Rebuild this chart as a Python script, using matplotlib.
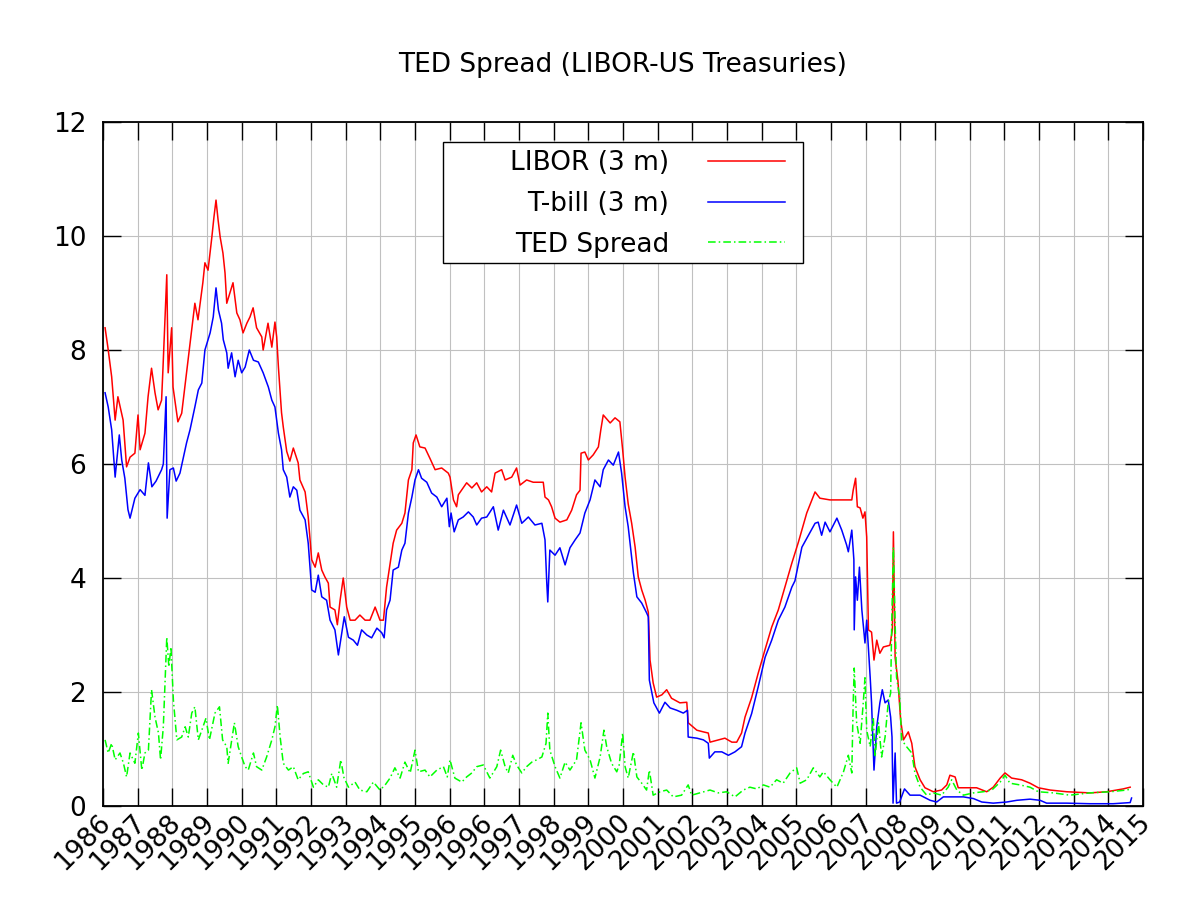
import numpy as np
import matplotlib
matplotlib.use('Agg')
import matplotlib.pyplot as plt
from matplotlib.transforms import ScaledTranslation

# values (decimal years, percent)
libor_t = [1986.06, 1986.14, 1986.25, 1986.35, 1986.43, 1986.58, 1986.68, 1986.78, 1986.92, 1987.01,
           1987.07, 1987.21, 1987.30, 1987.40, 1987.50, 1987.59, 1987.69, 1987.73, 1987.84, 1987.88,
           1987.98, 1988.02, 1988.16, 1988.27, 1988.41, 1988.56, 1988.65, 1988.74, 1988.88, 1988.94,
           1989.03, 1989.14, 1989.20, 1989.26, 1989.32, 1989.38, 1989.46, 1989.52, 1989.57, 1989.66,
           1989.75, 1989.86, 1989.95, 1990.04, 1990.15, 1990.24, 1990.33, 1990.43, 1990.58, 1990.62,
           1990.76, 1990.87, 1990.96, 1991.01, 1991.06, 1991.15, 1991.20, 1991.30, 1991.39, 1991.49,
           1991.63, 1991.68, 1991.83, 1991.92, 1992.02, 1992.12, 1992.21, 1992.31, 1992.40, 1992.50,
           1992.55, 1992.69, 1992.76, 1992.84, 1992.93, 1993.03, 1993.13, 1993.27, 1993.41, 1993.56,
           1993.70, 1993.85, 1993.99, 1994.09, 1994.18, 1994.37, 1994.47, 1994.62, 1994.71, 1994.81,
           1994.91, 1994.95, 1995.03, 1995.14, 1995.29, 1995.43, 1995.58, 1995.77, 1995.96, 1996.01,
           1996.11, 1996.20, 1996.25, 1996.49, 1996.64, 1996.78, 1996.92, 1997.07, 1997.21, 1997.31,
           1997.50, 1997.60, 1997.79, 1997.93, 1998.03, 1998.22, 1998.41, 1998.70, 1998.75, 1998.85,
           1998.94, 1999.04, 1999.18, 1999.38, 1999.52, 1999.66, 1999.76, 1999.79, 1999.90, 2000.00,
           2000.14, 2000.29, 2000.36, 2000.43, 2000.63, 2000.77, 2000.91, 2000.99, 2001.06, 2001.15,
           2001.25, 2001.35, 2001.44, 2001.54, 2001.64, 2001.73, 2001.78, 2001.87, 2001.97, 2002.12,
           2002.26, 2002.40, 2002.64, 2002.84, 2002.88, 2003.13, 2003.32, 2003.46, 2003.51, 2003.75,
           2003.94, 2004.14, 2004.28, 2004.42, 2004.52, 2004.71, 2004.90, 2005.10, 2005.29, 2005.48,
           2005.67, 2005.87, 2006.06, 2006.30, 2006.54, 2006.68, 2006.97, 2007.26, 2007.60, 2007.64,
           2007.71, 2007.76, 2007.84, 2007.92, 2007.98, 2008.03, 2008.08, 2008.17, 2008.24, 2008.32,
           2008.41, 2008.51, 2008.70, 2008.77, 2008.80, 2008.85, 2008.93, 2009.01, 2009.09, 2009.23,
           2009.33, 2009.42, 2009.57, 2009.71, 2009.95, 2010.19, 2010.34, 2010.43, 2010.58, 2010.67,
           2010.96, 2011.20, 2011.49, 2011.68, 2011.88, 2012.02, 2012.21, 2012.50, 2012.74, 2012.98,
           2013.32, 2013.80, 2014.47, 2014.95, 2015.43, 2015.63]
libor = [8.39, 8.05, 7.53, 6.77, 7.18, 6.77, 5.95, 6.12, 6.19, 6.86,
         6.25, 6.54, 7.18, 7.68, 7.25, 6.95, 7.12, 7.68, 9.32, 7.60,
         8.39, 7.35, 6.74, 6.89, 7.60, 8.35, 8.82, 8.53, 9.18, 9.53,
         9.40, 9.98, 10.33, 10.63, 10.28, 9.98, 9.70, 9.35, 8.82, 9.00,
         9.18, 8.65, 8.53, 8.30, 8.47, 8.58, 8.74, 8.39, 8.23, 8.00,
         8.47, 8.05, 8.49, 8.23, 7.70, 6.90, 6.65, 6.22, 6.05, 6.28,
         6.02, 5.72, 5.51, 5.07, 4.32, 4.19, 4.44, 4.14, 4.02, 3.91,
         3.49, 3.44, 3.18, 3.61, 4.00, 3.49, 3.26, 3.26, 3.35, 3.26,
         3.26, 3.49, 3.26, 3.26, 3.84, 4.61, 4.84, 4.96, 5.14, 5.72,
         5.90, 6.37, 6.51, 6.30, 6.28, 6.10, 5.90, 5.93, 5.84, 5.77,
         5.37, 5.25, 5.46, 5.67, 5.58, 5.67, 5.51, 5.60, 5.51, 5.84,
         5.90, 5.72, 5.77, 5.93, 5.63, 5.72, 5.68, 5.68, 5.42, 5.37,
         5.25, 5.05, 4.98, 5.02, 5.19, 5.46, 5.54, 6.19, 6.21, 6.07,
         6.16, 6.30, 6.60, 6.86, 6.72, 6.81, 6.74, 6.25, 5.77, 5.30,
         4.96, 4.54, 4.02, 3.79, 3.61, 3.40, 2.56, 2.16, 1.91, 1.95,
         2.04, 1.89, 1.81, 1.82, 1.46, 1.33, 1.30, 1.28, 1.12, 1.16,
         1.19, 1.12, 1.12, 1.28, 1.56, 1.90, 2.33, 2.75, 3.14, 3.44,
         3.84, 4.26, 4.63, 5.14, 5.51, 5.40, 5.37, 5.37, 5.37, 5.54,
         5.75, 5.25, 5.23, 5.05, 5.16, 4.72, 3.09, 3.05, 2.56, 2.91,
         2.68, 2.79, 2.82, 3.09, 4.81, 2.60, 2.20, 1.50, 1.16, 1.30,
         1.10, 0.69, 0.46, 0.32, 0.25, 0.28, 0.37, 0.54, 0.51, 0.32,
         0.32, 0.32, 0.25, 0.33, 0.49, 0.58, 0.49, 0.46, 0.40, 0.32,
         0.28, 0.25, 0.23, 0.25, 0.30, 0.33]

tbill_t = [1986.06, 1986.15, 1986.25, 1986.35, 1986.47, 1986.54, 1986.63, 1986.72, 1986.78, 1986.92,
           1987.07, 1987.21, 1987.31, 1987.41, 1987.53, 1987.69, 1987.74, 1987.82, 1987.85, 1987.93,
           1988.03, 1988.11, 1988.22, 1988.41, 1988.51, 1988.65, 1988.75, 1988.85, 1988.94, 1989.09,
           1989.18, 1989.26, 1989.33, 1989.42, 1989.47, 1989.57, 1989.61, 1989.71, 1989.81, 1989.90,
           1990.00, 1990.10, 1990.22, 1990.34, 1990.48, 1990.62, 1990.77, 1990.87, 1990.96, 1991.06,
           1991.15, 1991.20, 1991.30, 1991.39, 1991.49, 1991.59, 1991.68, 1991.83, 1991.92, 1992.02,
           1992.12, 1992.21, 1992.31, 1992.45, 1992.55, 1992.69, 1992.79, 1992.89, 1992.96, 1993.08,
           1993.22, 1993.34, 1993.46, 1993.61, 1993.75, 1993.90, 1994.04, 1994.11, 1994.18, 1994.28,
           1994.37, 1994.52, 1994.62, 1994.71, 1994.81, 1994.91, 1995.00, 1995.10, 1995.19, 1995.34,
           1995.48, 1995.63, 1995.77, 1995.92, 1995.99, 1996.04, 1996.13, 1996.25, 1996.39, 1996.54,
           1996.68, 1996.78, 1996.92, 1997.07, 1997.26, 1997.40, 1997.55, 1997.74, 1997.93, 1998.08,
           1998.27, 1998.46, 1998.66, 1998.75, 1998.80, 1998.83, 1998.89, 1999.04, 1999.18, 1999.33,
           1999.47, 1999.62, 1999.76, 1999.90, 2000.05, 2000.19, 2000.34, 2000.43, 2000.58, 2000.72,
           2000.87, 2000.96, 2001.06, 2001.15, 2001.30, 2001.40, 2001.54, 2001.68, 2001.73, 2001.76,
           2001.89, 2002.05, 2002.21, 2002.36, 2002.55, 2002.74, 2002.86, 2002.88, 2003.13, 2003.32,
           2003.46, 2003.49, 2003.65, 2003.85, 2004.04, 2004.23, 2004.42, 2004.52, 2004.71, 2004.90,
           2005.10, 2005.29, 2005.48, 2005.67, 2005.87, 2005.96, 2006.16, 2006.35, 2006.54, 2006.63,
           2006.73, 2006.83, 2006.97, 2007.17, 2007.31, 2007.45, 2007.50, 2007.60, 2007.66, 2007.67,
           2007.71, 2007.76, 2007.82, 2007.89, 2007.98, 2008.03, 2008.13, 2008.17, 2008.24, 2008.32,
           2008.41, 2008.48, 2008.56, 2008.65, 2008.72, 2008.76, 2008.79, 2008.85, 2008.89, 2008.98,
           2009.12, 2009.28, 2009.57, 2009.86, 2010.05, 2010.24, 2010.53, 2010.82, 2011.11, 2011.35,
           2011.68, 2012.07, 2012.36, 2012.74, 2013.03, 2013.22, 2013.80, 2014.47, 2015.14, 2015.63,
           2015.67]
tbill = [7.25, 7.00, 6.60, 5.77, 6.51, 6.07, 5.75, 5.20, 5.05, 5.40,
         5.55, 5.45, 6.02, 5.60, 5.70, 5.90, 6.00, 7.18, 5.05, 5.90,
         5.93, 5.70, 5.84, 6.37, 6.60, 7.00, 7.30, 7.42, 8.00, 8.30,
         8.58, 9.09, 8.70, 8.47, 8.18, 7.95, 7.68, 7.95, 7.53, 7.82,
         7.60, 7.70, 8.00, 7.82, 7.79, 7.60, 7.35, 7.12, 7.00, 6.54,
         6.25, 5.90, 5.77, 5.42, 5.60, 5.54, 5.19, 5.02, 4.61, 3.79,
         3.75, 4.05, 3.67, 3.61, 3.26, 3.09, 2.65, 3.04, 3.32, 2.96,
         2.91, 2.82, 3.09, 3.00, 2.95, 3.12, 3.04, 2.95, 3.44, 3.61,
         4.14, 4.19, 4.49, 4.61, 5.14, 5.42, 5.72, 5.90, 5.75, 5.68,
         5.49, 5.42, 5.25, 5.40, 4.90, 5.14, 4.81, 5.02, 5.07, 5.16,
         5.07, 4.93, 5.05, 5.07, 5.25, 4.84, 5.19, 4.93, 5.28, 4.96,
         5.07, 4.93, 4.96, 4.67, 3.93, 3.58, 4.49, 4.40, 4.53, 4.23,
         4.53, 4.67, 4.79, 5.14, 5.37, 5.72, 5.60, 5.90, 6.07, 5.98,
         6.21, 5.84, 5.25, 4.90, 4.09, 3.67, 3.56, 3.39, 3.32, 2.21,
         1.81, 1.63, 1.82, 1.72, 1.68, 1.63, 1.68, 1.21, 1.19, 1.16,
         1.10, 0.84, 0.95, 0.95, 0.89, 0.95, 1.04, 1.28, 1.62, 2.09,
         2.61, 2.91, 3.26, 3.49, 3.84, 3.95, 4.54, 4.75, 4.96, 4.98,
         4.75, 4.98, 4.81, 5.05, 4.84, 4.58, 4.46, 4.84, 4.32, 3.09,
         4.02, 3.61, 4.19, 3.44, 2.86, 3.26, 2.26, 1.81, 0.63, 1.39,
         1.81, 2.04, 1.81, 1.86, 1.56, 1.21, 0.05, 0.93, 0.05, 0.07,
         0.30, 0.19, 0.19, 0.10, 0.07, 0.16, 0.16, 0.16, 0.13, 0.07,
         0.05, 0.07, 0.10, 0.12, 0.10, 0.05, 0.05, 0.04, 0.04, 0.06,
         0.14]

ted_t = [1986.06, 1986.15, 1986.25, 1986.35, 1986.49, 1986.59, 1986.68, 1986.78, 1986.92, 1987.02,
         1987.12, 1987.21, 1987.31, 1987.40, 1987.50, 1987.60, 1987.66, 1987.74, 1987.84, 1987.90,
         1987.96, 1988.03, 1988.13, 1988.27, 1988.37, 1988.46, 1988.56, 1988.65, 1988.75, 1988.85,
         1988.97, 1989.07, 1989.23, 1989.36, 1989.45, 1989.57, 1989.61, 1989.79, 1989.90, 1990.00,
         1990.10, 1990.19, 1990.34, 1990.43, 1990.58, 1990.72, 1990.87, 1990.96, 1991.03, 1991.11,
         1991.20, 1991.35, 1991.49, 1991.63, 1991.78, 1991.92, 1992.07, 1992.21, 1992.36, 1992.50,
         1992.60, 1992.74, 1992.86, 1992.95, 1993.08, 1993.27, 1993.41, 1993.61, 1993.80, 1993.99,
         1994.14, 1994.28, 1994.42, 1994.57, 1994.71, 1994.86, 1995.00, 1995.10, 1995.29, 1995.43,
         1995.63, 1995.82, 1995.93, 1996.01, 1996.15, 1996.35, 1996.49, 1996.64, 1996.78, 1996.97,
         1997.16, 1997.36, 1997.47, 1997.60, 1997.69, 1997.82, 1997.93, 1998.08, 1998.22, 1998.37,
         1998.51, 1998.66, 1998.78, 1998.83, 1998.89, 1999.04, 1999.18, 1999.33, 1999.47, 1999.66,
         1999.79, 1999.90, 2000.05, 2000.19, 2000.34, 2000.45, 2000.53, 2000.67, 2000.82, 2000.89,
         2000.99, 2001.06, 2001.15, 2001.30, 2001.40, 2001.54, 2001.68, 2001.76, 2001.87, 2002.07,
         2002.26, 2002.45, 2002.69, 2002.88, 2002.98, 2003.22, 2003.51, 2003.75, 2003.99, 2004.23,
         2004.47, 2004.66, 2004.86, 2005.05, 2005.24, 2005.43, 2005.62, 2005.82, 2006.01, 2006.11,
         2006.30, 2006.49, 2006.68, 2006.78, 2006.97, 2007.17, 2007.36, 2007.50, 2007.60, 2007.64,
         2007.67, 2007.74, 2007.84, 2007.93, 2007.98, 2008.03, 2008.13, 2008.22, 2008.27, 2008.37,
         2008.46, 2008.56, 2008.65, 2008.72, 2008.75, 2008.80, 2008.85, 2008.89, 2008.98, 2009.04,
         2009.18, 2009.33, 2009.42, 2009.57, 2009.76, 2009.95, 2010.19, 2010.38, 2010.48, 2010.63,
         2010.82, 2011.11, 2011.39, 2011.64, 2011.88, 2012.02, 2012.16, 2012.45, 2012.74, 2012.98,
         2013.41, 2013.89, 2014.47, 2015.05, 2015.53, 2015.65]
ted = [1.16, 0.93, 1.10, 0.81, 0.93, 0.75, 0.51, 0.93, 0.75, 1.28,
       0.63, 0.93, 0.98, 2.04, 1.56, 1.28, 0.81, 1.39, 2.96, 2.44,
       2.79, 1.86, 1.16, 1.21, 1.39, 1.21, 1.63, 1.74, 1.16, 1.33,
       1.54, 1.16, 1.63, 1.74, 1.16, 1.04, 0.75, 1.46, 1.04, 0.86,
       0.69, 0.63, 0.93, 0.69, 0.63, 0.86, 1.16, 1.39, 1.77, 1.21,
       0.75, 0.63, 0.69, 0.46, 0.57, 0.60, 0.33, 0.46, 0.37, 0.33,
       0.57, 0.33, 0.81, 0.50, 0.33, 0.42, 0.28, 0.25, 0.42, 0.28,
       0.37, 0.49, 0.67, 0.49, 0.77, 0.58, 0.98, 0.60, 0.63, 0.51,
       0.63, 0.69, 0.51, 0.81, 0.49, 0.42, 0.51, 0.58, 0.69, 0.72,
       0.49, 0.69, 0.98, 0.69, 0.58, 0.89, 0.72, 0.58, 0.69, 0.77,
       0.81, 0.86, 1.10, 1.63, 0.98, 0.69, 0.49, 0.77, 0.63, 0.81,
       1.46, 0.98, 0.81, 0.49, 0.86, 1.33, 1.04, 0.75, 0.60, 0.72,
       1.28, 0.69, 0.49, 0.95, 0.51, 0.40, 0.28, 0.63, 0.19, 0.25,
       0.28, 0.16, 0.19, 0.37, 0.19, 0.23, 0.28, 0.23, 0.25, 0.16,
       0.28, 0.33, 0.30, 0.37, 0.33, 0.46, 0.40, 0.58, 0.67, 0.40,
       0.46, 0.67, 0.51, 0.60, 0.46, 0.33, 0.60, 0.89, 0.58, 1.81,
       2.42, 1.46, 1.10, 1.81, 2.25, 1.33, 1.04, 1.56, 0.86, 1.46,
       0.86, 1.21, 1.81, 1.98, 3.14, 4.54, 3.21, 2.26, 1.91, 1.16,
       1.04, 0.93, 0.58, 0.33, 0.19, 0.23, 0.19, 0.33, 0.46, 0.28,
       0.19, 0.23, 0.25, 0.28, 0.42, 0.54, 0.40, 0.37, 0.33, 0.25,
       0.23, 0.19, 0.23, 0.25, 0.28, 0.30]

# gnuplot stepped the tics by 365 days, so "1996" shows up twice
tick_labels = ['1986', '1987', '1988', '1989', '1990', '1991', '1992', '1993', '1994', '1995',
               '1996', '1996', '1997', '1998', '1999', '2000', '2001', '2002', '2003', '2004',
               '2005', '2006', '2007', '2008', '2009', '2010', '2011', '2012', '2013', '2014', '2015']

plt.rcParams['font.family'] = 'DejaVu Sans'
fs = 19

fig = plt.figure(figsize=(12, 9), dpi=100)
ax = fig.add_axes([103 / 1200, 1 - 806 / 900, 1040 / 1200, 684 / 900])

ax.plot(libor_t, libor, color='#ff0000', lw=1.1, label='LIBOR (3 m)', zorder=3)
ax.plot(tbill_t, tbill, color='#0000ff', lw=1.1, label='T-bill (3 m)', zorder=4)
ax.plot(ted_t, ted, color='#00ff00', lw=1.1, linestyle=(0, (5, 2, 1, 2)),
        label='TED Spread', zorder=5)

ax.set_xlim(1986, 2016)
ax.set_ylim(0, 12)
ax.set_xticks(np.arange(1986, 2017))
ax.set_xticklabels(tick_labels, rotation=45, ha='right', va='center', rotation_mode='anchor')
ax.set_yticks(np.arange(0, 13, 2))
ax.tick_params(axis='both', which='major', direction='in', length=13, width=1.0,
               top=True, right=True, labelsize=fs, color='black')
ax.tick_params(axis='x', pad=9)
ax.tick_params(axis='y', pad=12)
shift = ScaledTranslation(4 / 100, 0, fig.dpi_scale_trans)
for lab in ax.get_xticklabels():
    lab.set_transform(lab.get_transform() + shift)
ax.grid(True, color='#c0c0c0', lw=0.8, zorder=0)
ax.set_axisbelow(True)
for sp in ax.spines.values():
    sp.set_linewidth(1.3)

ax.set_title('TED Spread (LIBOR-US Treasuries)', fontsize=fs, pad=36)

# key box drawn as its own frame, gnuplot style (wider on the text side)
box = plt.Rectangle((443 / 1200, 1 - 263 / 900), 360 / 1200, 121 / 900,
                    transform=fig.transFigure, facecolor='white', edgecolor='black',
                    lw=1.0, zorder=6, clip_on=False)
ax.add_patch(box)
leg = ax.legend(loc='upper right', bbox_to_anchor=(785 / 1200, 1 - 150 / 900),
                bbox_transform=fig.transFigure, borderaxespad=0, markerfirst=False,
                fontsize=fs, handlelength=2.9, handletextpad=1.5, labelspacing=0.56,
                borderpad=0, frameon=False)
leg.set_zorder(7)

fig.savefig('out.png', dpi=100)
